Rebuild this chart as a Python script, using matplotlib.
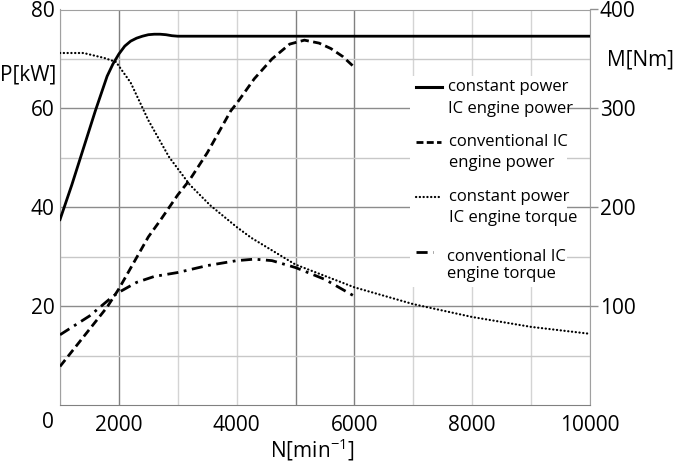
import matplotlib.pyplot as plt
from matplotlib.patches import Rectangle

plt.rcParams['font.family'] = ['Open Sans', 'DejaVu Sans']
plt.rcParams['mathtext.default'] = 'regular'

# constant power IC engine power [kW]
cp_rpm = [1000, 1200, 1400, 1600, 1800, 1900, 2000, 2100, 2200, 2300, 2400, 2500, 2600, 2700,
          2800, 2900, 3000, 10000]
cp_power = [37.5, 44.5, 52, 59.5, 66.5, 69, 71, 72.6, 73.6, 74.2, 74.6, 74.9, 75.0, 75.0,
            74.9, 74.7, 74.6, 74.6]

# conventional IC engine power [kW]
conv_rpm = [1000, 1500, 1800, 2000, 2300, 2500, 2700, 3000, 3200, 3500, 3900, 4000, 4300,
            4600, 4900, 5150, 5400, 5600, 5800, 6000]
conv_power = [7.8, 15.3, 19.8, 23.5, 29.8, 34, 37.3, 42.5, 45.5, 51, 59.5, 61, 66, 70,
              73, 73.8, 73.2, 72.1, 70.5, 68.3]

# constant power IC engine torque [Nm]
cpt_rpm = [1000, 1400, 1750, 1950, 2200, 2500, 2850, 3200, 3550, 4000, 4250, 5000, 6000,
           7000, 8000, 9000, 10000]
cpt_torque = [356, 356, 351, 347, 326, 288, 251, 223, 202, 180, 169, 142, 119, 102, 89, 79, 72]

# conventional IC engine torque [Nm]
convt_rpm = [1000, 1500, 1900, 2000, 2300, 2600, 3000, 3500, 4000, 4300, 4600, 5000, 5500, 6000]
convt_torque = [71, 90, 110, 114, 124, 130, 134, 141, 146, 147.5, 146, 139, 127, 110]

x_ticks = [2000, 4000, 6000, 8000, 10000]
p_ticks = [20, 40, 60, 80]
m_ticks = [100, 200, 300, 400]

legend_lines = [
    ('constant power', 'IC engine power'),
    ('conventional IC', 'engine power'),
    ('constant power', 'IC engine torque'),
    ('conventional IC', 'engine torque'),
]

W, H = 679, 468
L, R, T, B = 60, 590, 9.5, 405
fig = plt.figure(figsize=(W / 100, H / 100), dpi=100)
ax = fig.add_axes([L / W, 1 - B / H, (R - L) / W, (B - T) / H])


def fx(px):
    return (px - L) / (R - L)


def fy(py):
    return (B - py) / (B - T)


ax.set_xlim(1000, 10000)
ax.set_ylim(0, 80)

# grid
for v in range(1000, 10001, 1000):
    c = '#808080' if v in (2000, 5000, 6000) else '#d4d4d4'
    ax.axvline(v, color=c, lw=1, zorder=1)
for h in range(10, 80, 10):
    c = '#8c8c8c' if h % 20 == 0 else '#c8c8c8'
    ax.axhline(h, color=c, lw=1, zorder=1)

for s in ax.spines.values():
    s.set_color('#a0a0a0')
ax.spines['bottom'].set_color('#808080')

ax.set_xticks(x_ticks)
ax.set_yticks(p_ticks)
ax.tick_params(axis='both', length=0, labelsize=15)
ax.tick_params(axis='x', pad=7)
ax.tick_params(axis='y', pad=4)
ax.text(fx(48), fy(422), '0', transform=ax.transAxes, ha='center', va='center', fontsize=15)

# white box behind legend
ax.add_patch(Rectangle((fx(410), fy(287)), fx(567) - fx(410), fy(76) - fy(287),
                       transform=ax.transAxes, facecolor='white', edgecolor='none', zorder=2))

ax.plot(cp_rpm, cp_power, color='black', lw=2.0, zorder=4)
ax.plot(conv_rpm, conv_power, color='black', lw=2.0, dashes=(3, 1.6), zorder=4)

ax2 = ax.twinx()
ax2.set_ylim(0, 400)
ax2.set_yticks(m_ticks)
ax2.tick_params(axis='y', length=6, width=1, color='#909090', labelsize=15, pad=1)
for s in ax2.spines.values():
    s.set_visible(False)
ax2.plot(cpt_rpm, cpt_torque, color='black', lw=1.6, dashes=(0.1, 1.6),
         dash_capstyle='round', zorder=4)
ax2.plot(convt_rpm, convt_torque, color='black', lw=2.0, dashes=(4, 2, 1, 2), zorder=4)

# axis titles
ax.text(fx(0), fy(75), 'P[kW]', transform=ax.transAxes, ha='left', va='center', fontsize=15)
ax.text(fx(607), fy(60), 'M[Nm]', transform=ax.transAxes, ha='left', va='center', fontsize=15)
ax.text(fx(312), fy(450), 'N[min$^{-1}$]', transform=ax.transAxes, ha='center', va='center',
        fontsize=15)

# legend drawn by hand
handles = [
    dict(lw=2.2),
    dict(lw=2.0, dashes=(2.5, 1.2)),
    dict(lw=1.6, dashes=(0.1, 1.6), dash_capstyle='round'),
    dict(lw=2.0, dashes=(4, 2, 1, 2)),
]
hy = [87, 142, 197, 252]
hx = [(416, 442), (416, 441), (416, 440), (416, 433)]
ty = [(87, 109), (142, 163), (197, 218), (257, 274)]
tx = [448, 449, 449, 447]
for i, (a, b) in enumerate(legend_lines):
    ax.plot([fx(hx[i][0]), fx(hx[i][1])], [fy(hy[i]), fy(hy[i])], color='black',
            transform=ax.transAxes, clip_on=False, zorder=5, **handles[i])
    ax.text(fx(tx[i]), fy(ty[i][0]), a, transform=ax.transAxes, ha='left', va='center',
            fontsize=12, zorder=5)
    ax.text(fx(tx[i]), fy(ty[i][1]), b, transform=ax.transAxes, ha='left', va='center',
            fontsize=12, zorder=5)

fig.savefig('out.png', dpi=100)
